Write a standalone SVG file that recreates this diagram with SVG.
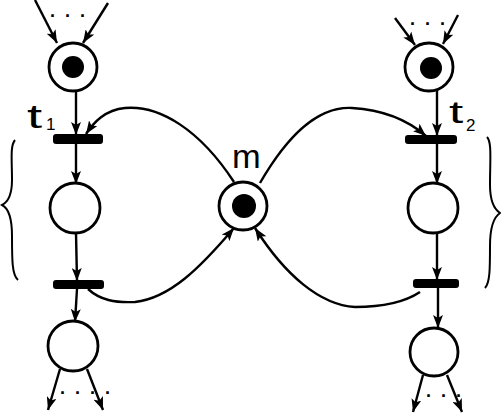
<svg xmlns="http://www.w3.org/2000/svg" width="501" height="413" viewBox="0 0 501 413">
<style>
.place{fill:#fff;stroke:#000;stroke-width:2.8}
.tok{fill:#000}
.bar{fill:#000}
.arc{fill:none;stroke:#000;stroke-width:2.4;marker-end:url(#ah)}
.brace{fill:none;stroke:#000;stroke-width:2}
.lbl{font-family:"Liberation Sans",Arial,sans-serif;fill:#000}
.dots{font-family:"Liberation Sans",Arial,sans-serif;font-weight:bold;font-size:18px;letter-spacing:10px;fill:#000}
</style>
<defs>
<marker id="ah" viewBox="0 0 13 10" refX="13" refY="5" markerWidth="13" markerHeight="10" markerUnits="userSpaceOnUse" orient="auto">
<path d="M0,0 L13,5 L0,10 L3,5 Z" fill="#000"/>
</marker>
</defs>
<rect width="501" height="413" fill="#fff"/>
<g id="connectors">
<path class="arc" d="M35,0 L57,43"/>
<path class="arc" d="M108,3 L83,43"/>
<path class="arc" d="M76,91 L76,135"/>
<path class="arc" d="M76,144 L76,184"/>
<path class="arc" d="M76,233 L77,281"/>
<path class="arc" d="M77,289 L75,322"/>
<path class="arc" d="M60,369 L48,410"/>
<path class="arc" d="M87,369 L103,410"/>
<path class="arc" d="M395,18 L415,45"/>
<path class="arc" d="M458,15 L443,44"/>
<path class="arc" d="M437,91 L437,136"/>
<path class="arc" d="M437,144 L437,184"/>
<path class="arc" d="M437,233 L437,280"/>
<path class="arc" d="M438,288 L438,328"/>
<path class="arc" d="M423,375 L413,412"/>
<path class="arc" d="M447,375 L462,412"/>
<path class="arc" d="M234,182 C200,130 160,105 125,108 C105,110 94,122 86,134"/>
<path class="arc" d="M260,183 C285,140 315,106 352,108 C385,110 410,122 426,136"/>
<path class="arc" d="M88,289 C100,300 115,303 135,302 C170,298 200,268 234,228"/>
<path class="arc" d="M420,292 C405,302 385,307 355,307 C320,305 285,275 255,228"/>
</g>
<g id="p1"><circle class="place" cx="73" cy="67" r="24"/><circle class="tok" cx="73" cy="67" r="11"/></g>
<g id="t1"><rect class="bar" x="53" y="134" width="50" height="10" rx="3"/><text class="lbl" font-size="34" transform="translate(27,128) scale(1.6,1)">t</text><text class="lbl" x="46" y="130" font-size="17">1</text></g>
<g id="p2"><circle class="place" cx="75" cy="208" r="25"/></g>
<g id="t3"><rect class="bar" x="53" y="280" width="51" height="9" rx="3"/></g>
<g id="p3"><circle class="place" cx="73" cy="346" r="25"/></g>
<g id="m"><circle class="place" cx="243" cy="206" r="24"/><circle class="tok" cx="244" cy="206" r="12"/><text class="lbl" font-size="30" transform="translate(232,168) scale(1.15,1.1)">m</text></g>
<g id="p4"><circle class="place" cx="429" cy="67" r="24"/><circle class="tok" cx="431" cy="68" r="11"/></g>
<g id="t2"><rect class="bar" x="405" y="135" width="52" height="9" rx="3"/><text class="lbl" font-size="32" transform="translate(449,123) scale(1.6,1)">t</text><text class="lbl" x="466" y="131" font-size="17">2</text></g>
<g id="p5"><circle class="place" cx="433" cy="208" r="25"/></g>
<g id="t4"><rect class="bar" x="413" y="279" width="46" height="9" rx="3"/></g>
<g id="p6"><circle class="place" cx="434" cy="352" r="24"/></g>
<g id="annotations">
<text class="dots" x="50" y="17">...</text>
<text class="dots" x="410" y="25">...</text>
<text class="dots" x="60" y="394" letter-spacing="5">....</text>
<text class="dots" x="426" y="397">...</text>
<path class="brace" d="M15,140 C10,146 12,160 12,180 C12,195 8,202 2,205 C8,208 12,216 12,236 C12,260 12,275 18,280"/>
<path class="brace" d="M487,137 C492,142 490,160 490,185 C490,200 494,209 500,213 C494,217 490,226 490,246 C490,268 490,283 485,288"/>
</g>
</svg>
